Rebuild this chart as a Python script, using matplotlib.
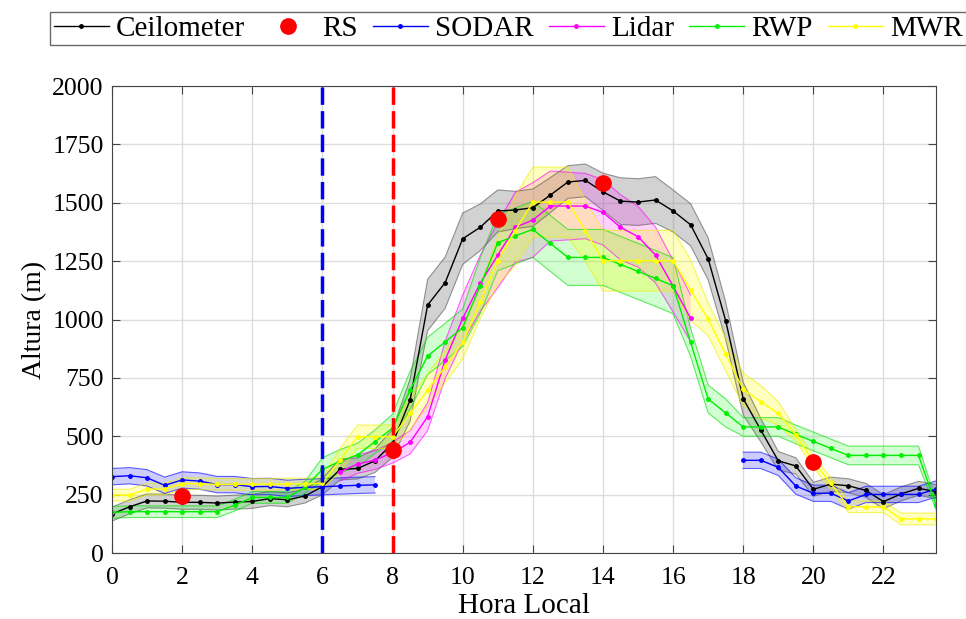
import matplotlib
matplotlib.use('Agg')
import matplotlib.pyplot as plt
import numpy as np

nan = np.nan

# hours 0 .. 23.5 every half hour
hours = np.arange(0, 24, 0.5)

ceil = [167, 198, 223, 222, 217, 217, 214, 218, 221, 233, 228, 244, 284, 358, 362, 395,
        470, 655, 1062, 1158, 1346, 1395, 1465, 1469, 1479, 1533, 1589, 1596, 1547, 1507, 1503, 1512,
        1465, 1406, 1260, 995, 661, 527, 395, 373, 273, 295, 288, 268, 220, 253, 277, 263]
ceil_sd = [30, 30, 30, 30, 30, 30, 30, 30, 30, 30, 30, 30, 35, 45, 45, 50,
           60, 90, 110, 110, 110, 100, 90, 80, 80, 75, 70, 70, 80, 100, 100, 100,
           90, 90, 90, 80, 70, 50, 40, 35, 30, 30, 30, 30, 30, 30, 30, 30]

sodar = [327, 331, 322, 290, 313, 308, 293, 293, 284, 285, 277, 281, 284, 287, 290, 292,
         nan, nan, nan, nan, nan, nan, nan, nan, nan, nan, nan, nan, nan, nan, nan, nan,
         nan, nan, nan, nan, 397, 397, 367, 287, 256, 256, 223, 251, 251, 251, 251, 274]
sodar_sd = 35

lidar = [nan, nan, nan, nan, nan, nan, nan, nan, nan, nan, nan, nan, nan, 348, 381, 398,
         430, 474, 584, 827, 1005, 1155, 1276, 1395, 1426, 1486, 1486, 1486, 1459, 1395, 1355, 1276,
         1143, 1005, nan, nan, nan, nan, nan, nan, nan, nan, nan, nan, nan, nan, nan, nan]
lidar_sd = [nan, nan, nan, nan, nan, nan, nan, nan, nan, nan, nan, nan, nan, 40, 40, 40,
            45, 50, 60, 80, 100, 120, 140, 150, 160, 150, 145, 140, 140, 140, 130, 120,
            110, 100, nan, nan, nan, nan, nan, nan, nan, nan, nan, nan, nan, nan, nan, nan]

rwp = [174, 177, 177, 177, 177, 177, 177, 205, 238, 238, 238, 281, 358, 393, 420, 477,
       535, 698, 844, 904, 965, 1145, 1329, 1358, 1386, 1326, 1266, 1266, 1266, 1236, 1206, 1176,
       1145, 902, 660, 600, 540, 540, 540, 508, 478, 448, 418, 418, 418, 418, 418, 205]
rwp_sd = [25, 25, 25, 25, 25, 25, 25, 25, 25, 25, 25, 25, 50, 50, 50, 50,
          60, 80, 80, 80, 80, 120, 120, 120, 120, 120, 120, 120, 120, 120, 120, 120,
          120, 60, 60, 60, 40, 40, 40, 40, 40, 40, 40, 40, 40, 40, 40, 20]

mwr = [248, 248, 274, 274, 297, 297, 294, 294, 294, 294, 296, 296, 298, 398, 498, 498,
       498, 598, 698, 798, 902, 1074, 1252, 1380, 1503, 1503, 1503, 1380, 1252, 1252, 1252, 1252,
       1252, 1126, 1001, 851, 701, 648, 598, 505, 391, 298, 198, 198, 198, 146, 146, 146]
mwr_sd = [25, 25, 25, 25, 25, 25, 25, 25, 25, 25, 25, 25, 25, 50, 50, 50,
          50, 70, 70, 70, 70, 70, 100, 150, 150, 150, 150, 130, 130, 130, 130, 130,
          130, 130, 70, 70, 70, 70, 50, 25, 25, 25, 25, 25, 25, 25, 25, 25]

rs_hours = [2, 8, 11, 14, 20]
rs_alt = [245, 440, 1430, 1585, 390]

plt.rcParams['font.family'] = ['Liberation Serif', 'DejaVu Serif']

fig = plt.figure(figsize=(9.66, 6.19), dpi=100)
ax = fig.add_axes([0.116, 0.1066, 0.853, 0.7544])


def band(y, sd, color, edge, alpha):
    y = np.array(y, dtype=float)
    sd = np.array(sd, dtype=float) * np.ones_like(y)
    ax.fill_between(hours, y - sd, y + sd, facecolor=color, alpha=alpha, linewidth=0)
    ax.plot(hours, y - sd, color=edge, lw=0.8, alpha=0.6)
    ax.plot(hours, y + sd, color=edge, lw=0.8, alpha=0.6)


band(ceil, ceil_sd, '#7f7f7f', '#555555', 0.35)
band(sodar, sodar_sd, '#0000ff', '#0000ff', 0.2)
band(lidar, lidar_sd, '#ff00ff', '#ff00ff', 0.18)
band(rwp, rwp_sd, '#00ff00', '#00dd00', 0.18)
band(mwr, mwr_sd, '#ffff00', '#eeee00', 0.25)

l_ceil, = ax.plot(hours, ceil, '-', color='k', lw=1, marker='o', ms=2.5, label='Ceilometer')
l_rs, = ax.plot(rs_hours, rs_alt, 'o', color='#ff0000', ms=11, ls='none', label='RS', zorder=6)
l_sodar, = ax.plot(hours, sodar, '-', color='#0000ff', lw=1, marker='o', ms=2.5, label='SODAR')
l_lidar, = ax.plot(hours, lidar, '-', color='#ff00ff', lw=1, marker='o', ms=2.5, label='Lidar')
l_rwp, = ax.plot(hours, rwp, '-', color='#00ee00', lw=1, marker='o', ms=2.5, label='RWP')
l_mwr, = ax.plot(hours, mwr, '-', color='#ffff00', lw=1, marker='o', ms=2.5, label='MWR')

ax.axvline(6, color='#0000ff', lw=2.5, ls=(0, (5, 1.8)), zorder=5)
ax.axvline(8, color='#ff0000', lw=2.5, ls=(0, (5, 1.8)), zorder=5)

ax.set_xlim(0, 23.5)
ax.set_ylim(0, 2000)
ax.set_xticks(np.arange(0, 24, 2))
ax.set_yticks(np.arange(0, 2001, 250))
ax.grid(True, color='#dddddd', lw=1)
ax.set_axisbelow(True)
ax.tick_params(direction='in', top=True, right=True, labelsize=18.5, length=6, color='#444444')
ax.tick_params(axis='x', pad=10)
ax.tick_params(axis='y', pad=6)
for s in ax.spines.values():
    s.set_color('#444444')
ax.set_xlabel('Hora Local', fontsize=21, labelpad=3)
ax.set_ylabel('Altura (m)', fontsize=20, labelpad=4)

leg = fig.legend(handles=[l_ceil, l_rs, l_sodar, l_lidar, l_rwp, l_mwr],
                 loc='upper left', bbox_to_anchor=(50 / 966, 1 - 12 / 619), ncol=6, fontsize=21,
                 frameon=True, fancybox=False, edgecolor='#444444', handlelength=1.9,
                 handletextpad=0.25, columnspacing=0.5, borderpad=0.12, borderaxespad=0)
leg.get_frame().set_linewidth(1)

fig.savefig('out.png', dpi=100)
